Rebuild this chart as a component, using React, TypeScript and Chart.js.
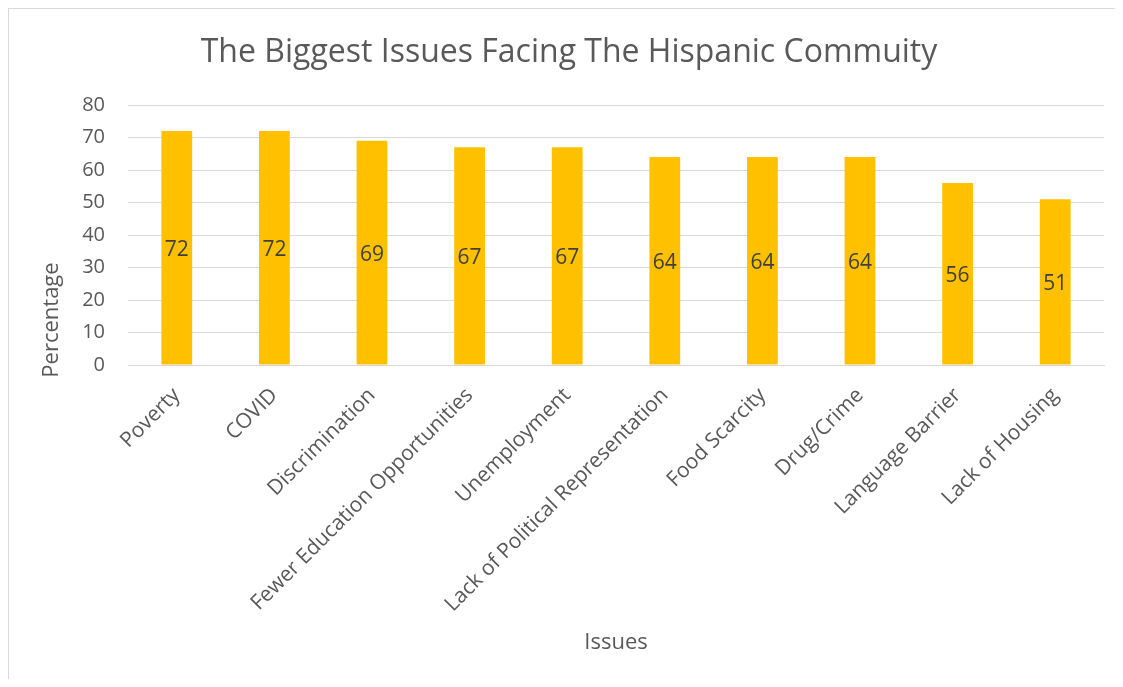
import React, { useEffect, useRef } from "react";
import { Chart, registerables } from "chart.js";

Chart.register(...registerables);

const TITLE = "The Biggest Issues Facing The Hispanic Commuity";
const categories = [
  "Poverty",
  "COVID",
  "Discrimination",
  "Fewer Education Opportunities",
  "Unemployment",
  "Lack of Political Representation",
  "Food Scarcity",
  "Drug/Crime",
  "Language Barrier",
  "Lack of Housing",
];
const percentages = [72, 72, 69, 67, 67, 64, 64, 64, 56, 51];
const yMin = 0;
const yMax = 80;
const yStep = 10;
const xTitle = "Issues";
const yTitle = "Percentage";

const FONT = "'Open Sans', 'Noto Sans', sans-serif";

const framePlugin = {
  id: "frame",
  beforeDraw(chart: any) {
    const ctx = chart.ctx;
    ctx.save();
    ctx.fillStyle = "#ffffff";
    ctx.fillRect(0, 0, chart.width, chart.height);
    ctx.fillStyle = "#d9d9d9";
    ctx.fillRect(0, 0, chart.width, 2);
    ctx.fillRect(0, 0, 2, chart.height);
    ctx.restore();
  },
};

const titlePlugin = {
  id: "customTitle",
  afterDraw(chart: any) {
    const ctx = chart.ctx;
    ctx.save();
    ctx.font = `32px ${FONT}`;
    ctx.fillStyle = "#595959";
    ctx.textAlign = "center";
    ctx.textBaseline = "middle";
    ctx.fillText(TITLE, 562, 46);
    // y-axis title
    ctx.font = `22px ${FONT}`;
    ctx.translate(45, 313);
    ctx.rotate(-Math.PI / 2);
    ctx.fillText(yTitle, 0, 0);
    ctx.restore();
  },
};

const labelPlugin = {
  id: "barLabels",
  afterDatasetsDraw(chart: any) {
    const ctx = chart.ctx;
    const meta = chart.getDatasetMeta(0);
    ctx.save();
    ctx.font = `21px ${FONT}`;
    ctx.fillStyle = "#404040";
    ctx.textAlign = "center";
    ctx.textBaseline = "middle";
    meta.data.forEach((bar: any, i: number) => {
      const v = chart.data.datasets[0].data[i];
      const y = (bar.y + bar.base) / 2;
      ctx.fillText(String(v), bar.x, y + 2);
    });
    ctx.restore();
  },
};

export default function App() {
  const ref = useRef<HTMLCanvasElement | null>(null);
  useEffect(() => {
    if (!ref.current) return;
    const chart = new Chart(ref.current, {
      type: "bar",
      data: {
        labels: categories,
        datasets: [
          {
            data: percentages,
            backgroundColor: "#FFC000",
            borderWidth: 0,
            barPercentage: 0.315,
            categoryPercentage: 1,
          },
        ],
      },
      plugins: [framePlugin, titlePlugin, labelPlugin],
      options: {
        animation: false,
        responsive: true,
        maintainAspectRatio: false,
        layout: { padding: { top: 98, right: 12, left: 0, bottom: 0 } },
        plugins: {
          legend: { display: false },
          tooltip: { enabled: false },
          title: { display: false },
        },
        scales: {
          x: {
            grid: { display: false, drawTicks: false },
            border: { display: true, color: "#d9d9d9", width: 1 },
            ticks: {
              minRotation: 45,
              maxRotation: 45,
              autoSkip: false,
              padding: 18,
              color: "#595959",
              font: { family: FONT, size: 21 },
            },
            title: {
              display: true,
              text: xTitle,
              color: "#595959",
              font: { family: FONT, size: 22 },
              padding: { top: 4, bottom: 23 },
            },
            afterFit(scale: any) {
              scale.height = 314;
            },
          },
          y: {
            min: yMin,
            max: yMax,
            grid: { color: "#d9d9d9", lineWidth: 1, drawTicks: false },
            border: { display: false },
            ticks: {
              stepSize: yStep,
              padding: 23,
              color: "#595959",
              font: { family: FONT, size: 20 },
            },
            title: { display: false },
            afterFit(scale: any) {
              scale.width = 121;
            },
          },
        },
      },
    });
    return () => chart.destroy();
  }, []);
  return (
    <div
      style={{
        marginLeft: -1,
        marginTop: -1,
        width: 1109,
        height: 672,
        position: "relative",
      }}
    >
      <canvas ref={ref} />
    </div>
  );
}
